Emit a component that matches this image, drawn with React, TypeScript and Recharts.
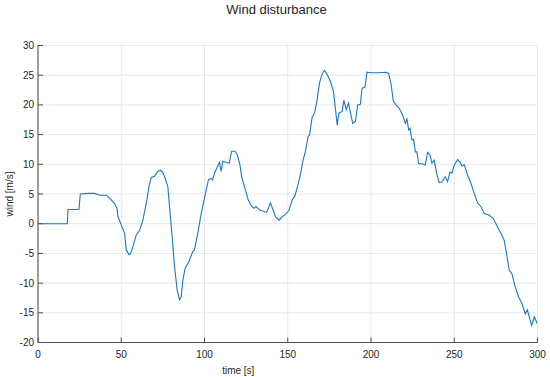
import React from 'react';
import { LineChart, Line, XAxis, YAxis, CartesianGrid } from 'recharts';

const times: number[] = [
  0, 17.6, 18, 24.6, 25.4, 30, 34, 37, 41, 43,
  46, 47.4, 48, 50, 52, 53, 54.6, 55.6, 57, 59,
  61, 63, 65.4, 66.6, 68, 70, 72, 73.6, 75, 76.4,
  78, 79, 80.4, 82, 83.6, 85, 86, 87, 88.4, 90.6,
  93, 94, 96, 98, 100.4, 102.4, 103.8, 104.8, 106.4, 109,
  110, 111, 113.3, 114.9, 116.3, 118.3, 119.7, 121.3, 122.3, 124.3,
  126.3, 128.3, 129.9, 130.9, 133.3, 137.3, 139.6, 141.2, 142.8, 144.8,
  146.8, 148.8, 150.8, 152.8, 154.2, 155.8, 157.6, 159.2, 160.8, 162.2,
  163.1, 164.7, 166.1, 167.5, 169.1, 170.7, 172.1, 173.7, 175.7, 177.5,
  178.7, 179.7, 180.7, 182.7, 183.7, 185.1, 186.5, 187.5, 189, 190.6,
  192, 193.6, 194.6, 196.4, 197.6, 199.4, 205, 209, 210.6, 212,
  213.4, 215, 217, 219, 220.6, 221.6, 222.6, 223.4, 224.6, 225.6,
  226.6, 227.6, 228.6, 230.6, 232.6, 234, 235.4, 236.6, 238, 239.4,
  241, 242.6, 244.6, 246, 247.4, 248.6, 250, 252, 253.4, 254.6,
  256, 258, 260, 262, 264, 266, 268, 270.6, 273.4, 275.4,
  278, 280, 281.4, 283, 284.6, 286.6, 288.6, 290.6, 292.7, 293.9,
  296.5, 298.1, 300,
];

const wind: number[] = [
  0, 0, 2.4, 2.4, 5.0, 5.1, 5.1, 4.8, 4.8, 4.3,
  3.4, 2.6, 1.2, -0.2, -1.6, -4.4, -5.2, -5.0, -3.9, -1.9,
  -1.1, 0.6, 4.0, 6.2, 7.8, 8.0, 8.8, 9.0, 8.6, 7.6,
  6.2, 2.9, -1.6, -7.2, -11.2, -12.8, -12.3, -9.5, -7.5, -6.4,
  -4.7, -4.4, -1.6, 1.7, 4.8, 7.4, 7.6, 7.4, 8.8, 10.3,
  8.8, 10.5, 10.3, 10.2, 12.2, 12.2, 11.6, 9.9, 7.9, 6.0,
  4.0, 2.9, 2.6, 2.9, 2.3, 1.9, 3.5, 2.3, 1.1, 0.6,
  1.2, 1.6, 2.3, 4.1, 4.6, 6.2, 8.2, 10.7, 12.4, 14.7,
  14.9, 18.0, 18.6, 20.6, 23.7, 25.3, 25.8, 25.1, 23.9, 22.2,
  19.2, 16.6, 18.6, 18.9, 20.8, 19.2, 20.3, 18.9, 16.9, 17.2,
  20.0, 20.1, 22.8, 23.0, 25.5, 25.4, 25.4, 25.5, 25.3, 23.6,
  20.6, 20.0, 19.4, 18.3, 16.9, 17.6, 15.8, 16.1, 14.1, 14.2,
  12.1, 12.1, 10.1, 10.1, 9.9, 12.0, 11.6, 10.2, 10.7, 8.5,
  6.9, 7.0, 7.9, 7.1, 8.7, 8.5, 9.9, 10.8, 10.4, 9.7,
  9.9, 8.2, 6.8, 5.1, 3.5, 2.9, 1.7, 1.5, 0.9, -0.2,
  -1.6, -2.8, -5.0, -7.8, -8.4, -10.6, -12.3, -13.4, -15.2, -14.5,
  -17.1, -15.7, -16.9,
];

const xTicks: number[] = [0, 50, 100, 150, 200, 250, 300];
const yTicks: number[] = [-20, -15, -10, -5, 0, 5, 10, 15, 20, 25, 30];

const data = times.map((t, i) => ({ t, w: wind[i] }));

const AXIS = '#4d4d4d';
const TEXT = '#262626';
const FONT = '"Liberation Sans", Arial, Helvetica, sans-serif';
const tickStyle = { fill: TEXT, fontSize: 10, fontFamily: FONT };
const empty = () => '';

export default function App() {
  return (
    <div style={{ position: 'absolute', left: 0, top: 0, width: 550, height: 377, background: '#fff', fontFamily: FONT, color: TEXT }}>
      <LineChart width={550} height={377} data={data} margin={{ top: 45.5, right: 12.5, bottom: 14.5, left: 8 }}>
        <CartesianGrid xAxisId="b" yAxisId="l" stroke="#e8e8e8" strokeWidth={1} vertical horizontal />
        <XAxis xAxisId="b" dataKey="t" type="number" domain={[0, 300]} ticks={xTicks} height={20}
          tickSize={-5} tickMargin={13.5} tick={tickStyle} stroke={AXIS} axisLine={{ stroke: AXIS }} tickLine={{ stroke: AXIS }} allowDataOverflow />
        <XAxis xAxisId="top" orientation="top" type="number" domain={[0, 300]} ticks={xTicks} height={0}
          tickSize={-5} tickFormatter={empty} stroke={AXIS} axisLine={{ stroke: AXIS }} tickLine={{ stroke: AXIS }} allowDataOverflow />
        <YAxis yAxisId="l" type="number" domain={[-20, 30]} ticks={yTicks} width={30}
          tickSize={-5} tickMargin={9} tick={tickStyle} stroke={AXIS} axisLine={{ stroke: AXIS }} tickLine={{ stroke: AXIS }} allowDataOverflow />
        <YAxis yAxisId="right" orientation="right" type="number" domain={[-20, 30]} ticks={yTicks} width={0}
          tickSize={-5} tickFormatter={empty} stroke={AXIS} axisLine={{ stroke: AXIS }} tickLine={{ stroke: AXIS }} allowDataOverflow />
        <Line xAxisId="b" yAxisId="l" type="linear" dataKey="w" stroke="#1a78c2" strokeWidth={1.1} dot={false} activeDot={false} isAnimationActive={false} />
      </LineChart>
      <div style={{ position: 'absolute', left: 0, top: 2, width: 553, textAlign: 'center', fontSize: 13, lineHeight: '15px' }}>Wind disturbance</div>
      <div style={{ position: 'absolute', left: 188.3 - 50, top: 365, width: 200, textAlign: 'center', fontSize: 10, lineHeight: '12px' }}>time [s]</div>
      <div style={{ position: 'absolute', left: 9.5 - 50, top: 194 - 6, width: 100, height: 12, textAlign: 'center', fontSize: 10, lineHeight: '12px', transform: 'rotate(-90deg)' }}>wind [m/s]</div>
    </div>
  );
}
